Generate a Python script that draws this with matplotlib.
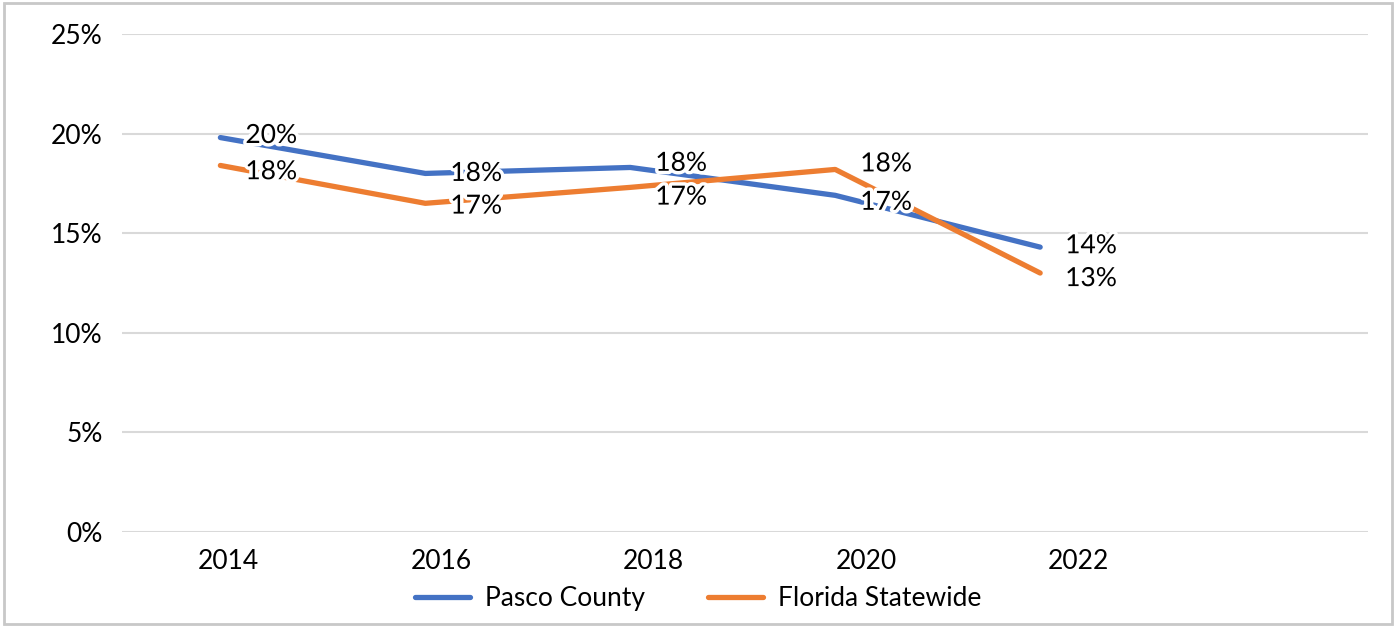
import numpy as np
import matplotlib
matplotlib.use('Agg')
import matplotlib.pyplot as plt
import matplotlib.patheffects as pe
from matplotlib.patches import Rectangle

plt.rcParams['font.family'] = ['Lato', 'DejaVu Sans']

# data
years = ['2014', '2016', '2018', '2020', '2022']
pasco = [19.8, 18.0, 18.3, 16.9, 14.3]
florida = [18.4, 16.5, 17.3, 18.2, 13.0]
pasco_labels = ['20%', '18%', '18%', '17%', '14%']
florida_labels = ['18%', '17%', '17%', '18%', '13%']
y_ticks = [0, 5, 10, 15, 20, 25]

# vertical nudges of the data labels (points), as placed in the original
pasco_dy = [1.5, 0, 3, -5, 1]
florida_dy = [-4.5, -2, -7, 4, -4]

blue = '#4472C4'
orange = '#ED7D31'
fs = 19

fig = plt.figure(figsize=(13.96, 6.27), dpi=100)
ax = fig.add_axes([0.0874, 0.1515, 0.8926, 0.7943])

x = np.arange(len(years))
ax.plot(x, pasco, color=blue, lw=3.8, solid_capstyle='round', label='Pasco County', zorder=3)
ax.plot(x, florida, color=orange, lw=3.8, solid_capstyle='round', label='Florida Statewide', zorder=3)

halo = [pe.withStroke(linewidth=5, foreground='white')]
for xi, v, t, dy in zip(x, pasco, pasco_labels, pasco_dy):
    ax.annotate(t, (xi, v), xytext=(18, dy), textcoords='offset points',
                ha='left', va='center', fontsize=fs, path_effects=halo, zorder=5)
for xi, v, t, dy in zip(x, florida, florida_labels, florida_dy):
    ax.annotate(t, (xi, v), xytext=(18, dy), textcoords='offset points',
                ha='left', va='center', fontsize=fs, path_effects=halo, zorder=5)

ax.set_ylim(0, 25)
ax.set_xlim(-0.48, 5.6)
ax.set_yticks(y_ticks)
ax.set_yticklabels([f'{v}%' for v in y_ticks], fontsize=fs)
# excel puts the category labels slightly right of the points
ax.set_xticks(x * 1.037 + 0.04)
ax.set_xticklabels(years, fontsize=fs)
ax.tick_params(axis='both', length=0)
ax.tick_params(axis='y', pad=14)
ax.tick_params(axis='x', pad=12)
ax.grid(axis='y', color='#d9d9d9', lw=1.5, zorder=0)
for s in ax.spines.values():
    s.set_visible(False)

fig.legend(loc='center', bbox_to_anchor=(0.5, 0.045), ncol=2, frameon=False,
           fontsize=fs, handlelength=2.1, handletextpad=0.55, columnspacing=2.4)

fig.patches.append(Rectangle((0.003, 0.004), 0.994, 0.992, transform=fig.transFigure,
                             fill=False, edgecolor='#c8c8c8', lw=2))

plt.savefig('out.png', dpi=100)
